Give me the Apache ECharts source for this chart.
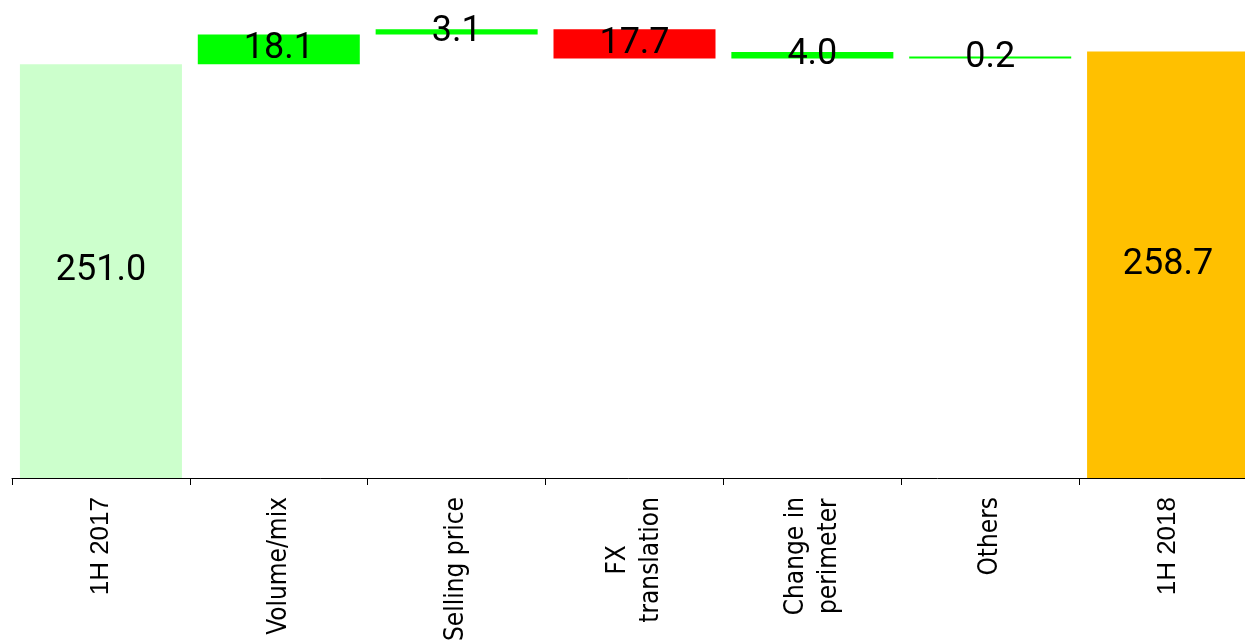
<!DOCTYPE html>
<html><head><meta charset="utf-8">
<script src="https://cdn.jsdelivr.net/npm/echarts@6/dist/echarts.min.js"></script>
<style>html,body{margin:0;padding:0;background:#fff;overflow:hidden}#c{width:1245px;height:640px}</style>
</head><body><div id="c"></div>
<script>
// Data
const categories = ['1H 2017', 'Volume/mix', 'Selling price', 'FX\ntranslation', 'Change in\nperimeter', 'Others', '1H 2018'];
const changes = [251.0, 18.1, 3.1, -17.7, 4.0, 0.2, 258.7];
// floating bar starting points as drawn in the reference
const bases = [0, 251.0, 269.1, 254.5, 254.5, 254.5, 0];
const barColors = ['#CCFFCC', '#00FF00', '#00FF00', '#FF0000', '#00FF00', '#00FF00', '#FFC000'];
const yMin = 0, yMax = 290;

const chart = echarts.init(document.getElementById('c'));
chart.setOption({
  animation: false,
  grid: { left: 12, right: -12, top: 0, bottom: 162, containLabel: false, outerBoundsMode: 'none' },
  xAxis: {
    type: 'category',
    data: categories,
    boundaryGap: true,
    axisLine: { show: true, lineStyle: { color: '#000', width: 1 } },
    axisTick: { show: true, length: 7, lineStyle: { color: '#000' } },
    axisLabel: {
      rotate: 90,
      margin: 19,
      interval: 0,
      color: '#000',
      formatter: v => v.startsWith('1H') ? '{n|' + v + '}' : v.split('\n').map(s => '{c|' + s + '}').join('\n'),
      rich: {
        n: { fontFamily: '"Liberation Sans Narrow", "Liberation Sans", Arial, sans-serif', fontSize: 26, color: '#000' },
        c: { fontFamily: '"DejaVu Sans Condensed", "Open Sans", sans-serif', fontSize: 26, color: '#000', align: 'center', lineHeight: 33 }
      }
    }
  },
  yAxis: { type: 'value', min: yMin, max: yMax, show: false, splitLine: { show: false } },
  series: [
    {
      type: 'bar', stack: 'w', silent: true,
      data: bases,
      itemStyle: { color: 'rgba(0,0,0,0)' },
      barWidth: 162
    },
    {
      type: 'bar', stack: 'w', silent: true,
      barMinHeight: 2,
      data: changes.map((v, i) => ({ value: Math.abs(v), itemStyle: { color: barColors[i] } })),
      barWidth: 162,
      label: {
        show: true,
        position: 'inside',
        color: '#000',
        fontFamily: 'Roboto, sans-serif',
        fontSize: 36,
        formatter: p => Math.abs(changes[p.dataIndex]).toFixed(1)
      }
    }
  ]
});
</script>
</body></html>
